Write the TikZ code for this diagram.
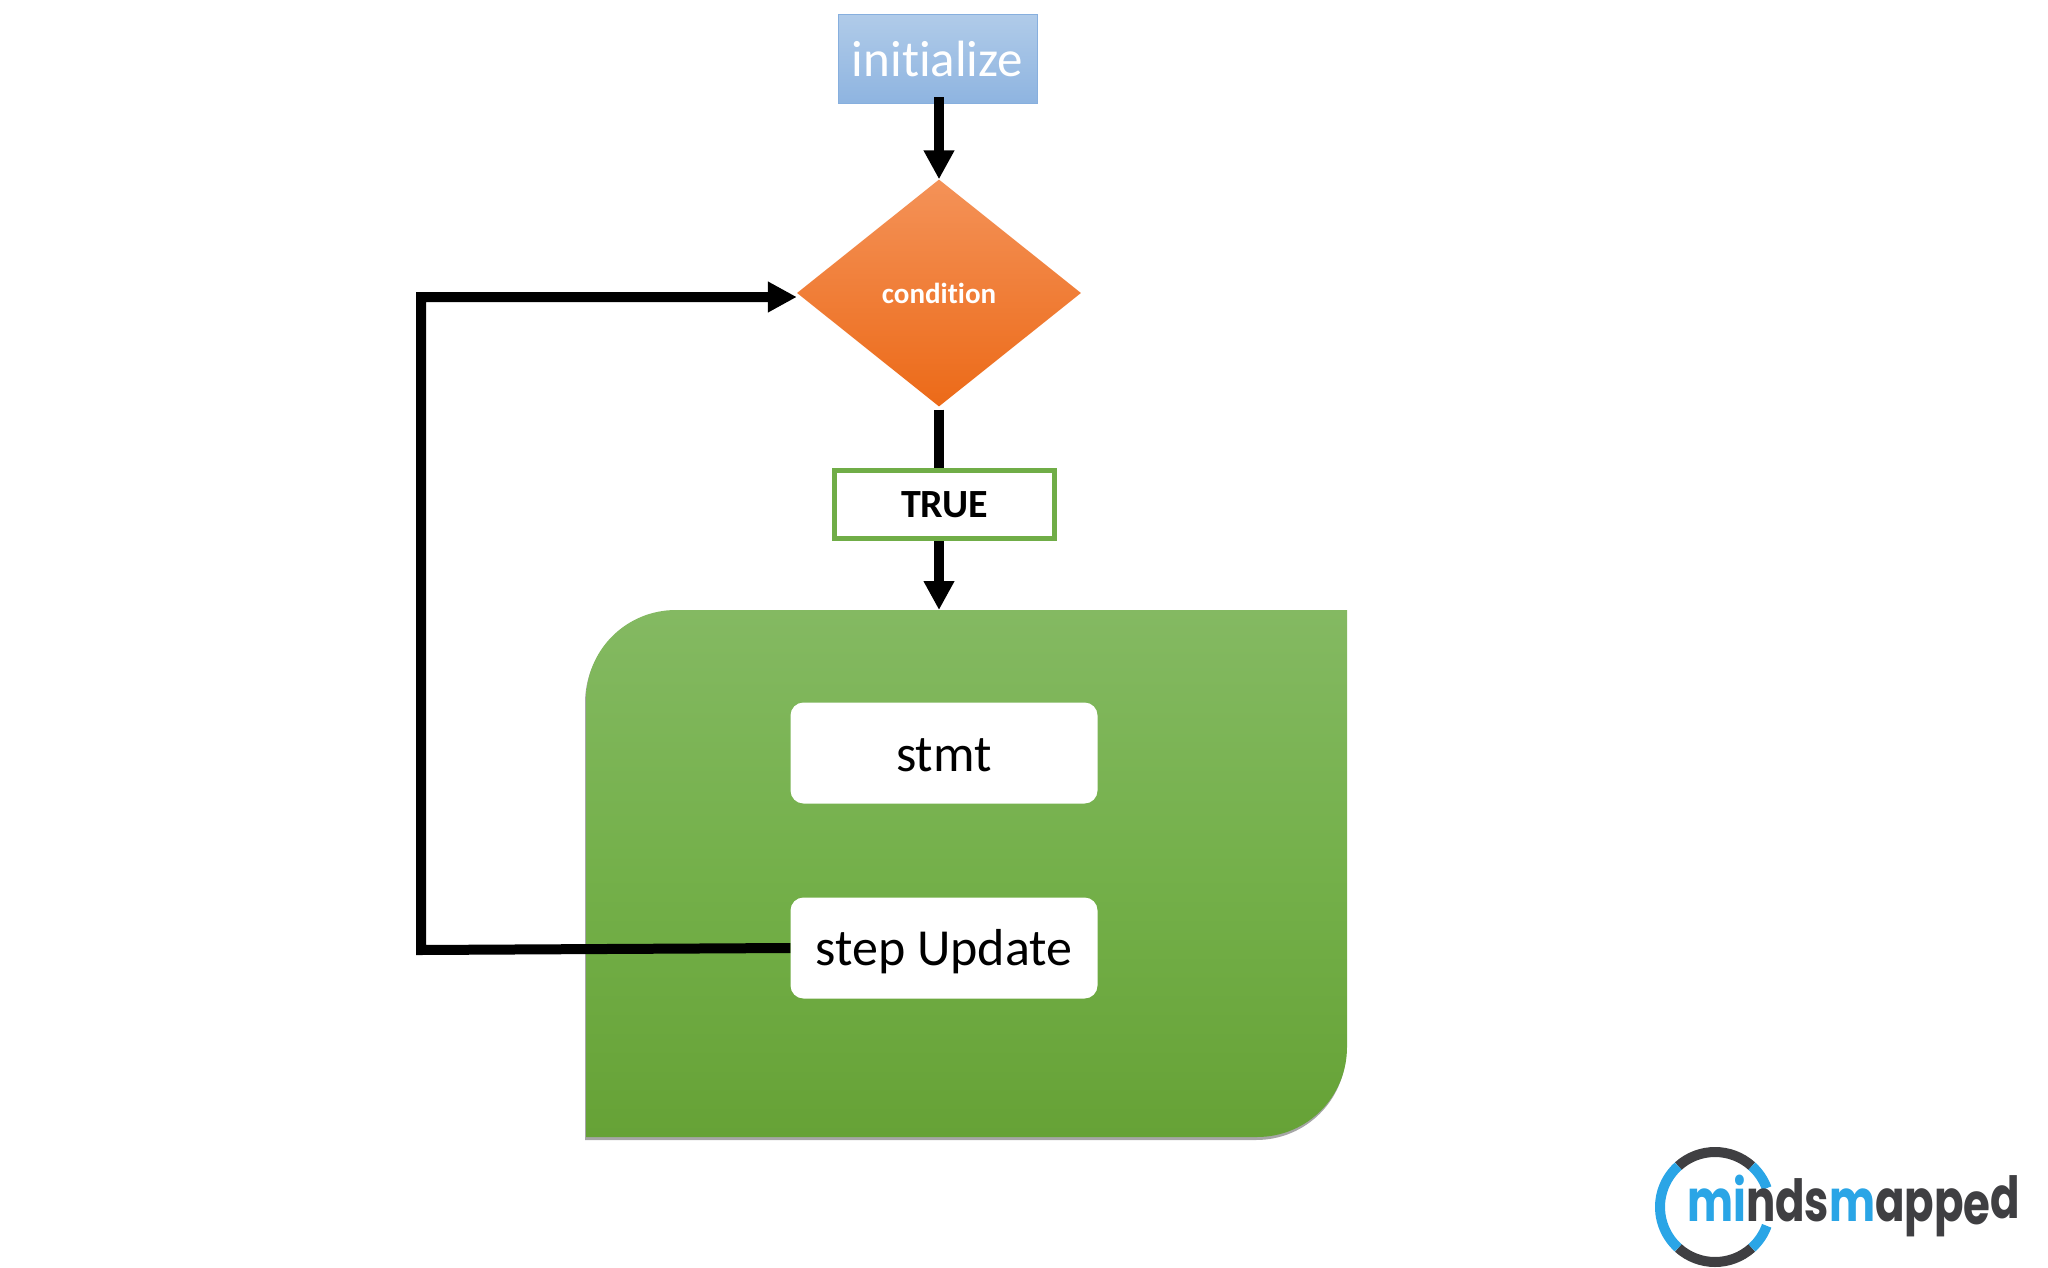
\documentclass[tikz,border=0pt]{standalone}
\usepackage{fontspec}
\setmainfont{Carlito}[Ligatures=NoCommon]
\newfontfamily\logofont{Poppins}[UprightFont=* Bold]
\usetikzlibrary{arrows.meta,shapes.geometric,calc}
\definecolor{logoblue}{HTML}{2AA5E6}
\definecolor{logodark}{HTML}{3F3F42}
\newcommand{\droptext}[2]{\raisebox{-#1pt}[0pt][0pt]{#2}}
\tikzset{
  conn/.style={line width=10pt,draw=black},
  arrowconn/.style={conn,-{Triangle[width=29pt,length=29pt]}},
  whitebox/.style={rectangle,rounded corners=13pt,fill=white,minimum width=307pt,minimum height=101pt,inner sep=0pt,font=\fontsize{52}{60}\selectfont,text=black},
  ringseg/.style={line width=10pt,line cap=butt}
}
\begin{document}
\begin{tikzpicture}[x=1pt,y=-1pt]
\useasboundingbox (0,0) rectangle (2048,1268);
% green body with its soft shadow
\fill[black!35,xshift=-1pt,yshift=-3pt]
  (676,610) -- (1347,610) -- (1347,1047) .. controls (1347,1097) and (1307,1137) .. (1257,1137) -- (586,1137) -- (586,700) .. controls (586,650) and (626,610) .. (676,610) -- cycle;
\shade[top color={rgb,255:red,132;green,185;blue,98},bottom color={rgb,255:red,102;green,162;blue,54},middle color={rgb,255:red,116;green,176;blue,74}]
  (676,610) -- (1347,610) -- (1347,1047) .. controls (1347,1097) and (1307,1137) .. (1257,1137) -- (586,1137) -- (586,700) .. controls (586,650) and (626,610) .. (676,610) -- cycle;
\coordinate (bodytop) at (939,610);
% boxes
\node[rectangle,draw={rgb,255:red,135;green,175;blue,222},line width=1pt,top color={rgb,255:red,176;green,203;blue,233},bottom color={rgb,255:red,142;green,180;blue,224},minimum width=199pt,minimum height=89pt,inner sep=0pt,text=white,font=\fontsize{51}{60}\selectfont] (init) at (937.5,59.5) {\droptext{17.5}{initialize}};
\node[diamond,top color={rgb,255:red,244;green,146;blue,88},bottom color={rgb,255:red,236;green,106;blue,24},minimum width=284pt,minimum height=227pt,inner sep=0pt,text=white,font=\fontsize{29}{34}\selectfont\bfseries] (cond) at (939,293) {\droptext{10}{condition}};
\node[rectangle,draw={rgb,255:red,112;green,173;blue,71},line width=5pt,fill=white,minimum width=220pt,minimum height=68pt,inner sep=0pt,font=\fontsize{40}{48}\selectfont\bfseries] (true) at (944.5,504.5) {\droptext{12.5}{TRUE}};
\node[whitebox] (stmt) at (944,753) {\droptext{18}{stmt}};
\node[whitebox] (step) at (944,948) {\droptext{17.5}{step Update}};
% connectors
\coordinate (lowleft) at (421,950);
\coordinate (upleft) at (421,297);
\draw[arrowconn,shorten <=-7pt] (init.south -| cond.north) -- (cond.north);
\draw[conn,shorten <=3pt] (cond.south) -- (cond.south |- true.north);
\draw[arrowconn] (cond.south |- true.south) -- (cond.south |- bodytop);
\draw[arrowconn] (step.west) -- (lowleft) -- (upleft) -- (cond.west |- upleft);
% logo
\coordinate (ring) at (1715,1207);
\draw[ringseg,logodark] ($(ring)+(-132:55)$) arc[start angle=-132,end angle=-48,radius=55];
\draw[ringseg,logodark] ($(ring)+(132:55)$) arc[start angle=132,end angle=48,radius=55];
\draw[ringseg,logoblue] ($(ring)+(132:55)$) arc[start angle=132,end angle=228,radius=55];
\draw[ringseg,logoblue] ($(ring)+(-48:55)$) arc[start angle=-48,end angle=-20,radius=55];
\draw[ringseg,logoblue] ($(ring)+(48:55)$) arc[start angle=48,end angle=20,radius=55];
\node[inner sep=0pt,anchor=base west,font=\logofont\fontsize{58}{60}\selectfont] (logo) at (1687,1221) {\scalebox{0.75}[1]{\color{logoblue}mi\color{logodark}nds\color{logoblue}m\color{logodark}app\raisebox{-3pt}{e}\raisebox{3pt}{d}}};
\end{tikzpicture}
\end{document}
